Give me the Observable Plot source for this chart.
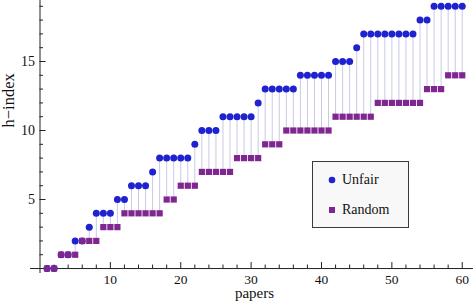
<!DOCTYPE html>
<html>
<head>
<meta charset="utf-8">
<script src="https://cdn.jsdelivr.net/npm/d3@7"></script>
<script src="https://cdn.jsdelivr.net/npm/@observablehq/plot@0.6"></script>
<style>
  html, body { margin: 0; padding: 0; background: #fff; }
  #wrap { position: relative; width: 473px; height: 302px; font-family: "Liberation Serif", "DejaVu Serif", serif; }
  #legend { position: absolute; left: 312px; top: 161px; width: 97px; height: 67px;
    border: 1px solid #3a3a3a; background: #f8f8f8; box-sizing: border-box; font-size: 14px; color: #111; }
  .item { position: absolute; left: 15px; display: flex; align-items: center; }
  .item svg { margin-right: 6px; }
</style>
</head>
<body>
<div id="wrap"></div>
<script>
const papers = [1,2,3,4,5,6,7,8,9,10,11,12,13,14,15,16,17,18,19,20,21,22,23,24,25,26,27,28,29,30,
  31,32,33,34,35,36,37,38,39,40,41,42,43,44,45,46,47,48,49,50,51,52,53,54,55,56,57,58,59,60];
const unfair = [0,0,1,1,2,2,3,4,4,4,5,5,6,6,6,7,8,8,8,8,8,9,10,10,10,11,11,11,11,11,
  12,13,13,13,13,13,14,14,14,14,14,15,15,15,16,17,17,17,17,17,17,17,17,18,18,19,19,19,19,19];
const random = [0,0,1,1,1,2,2,2,3,3,3,4,4,4,4,4,4,5,5,6,6,6,7,7,7,7,7,8,8,8,
  8,9,9,9,10,10,10,10,10,10,10,11,11,11,11,11,11,12,12,12,12,12,12,12,13,13,13,14,14,14];
const xMajor = [10,20,30,40,50,60];
const xMinor = [2,4,6,8,12,14,16,18,22,24,26,28,32,34,36,38,42,44,46,48,52,54,56,58];
const yMajor = [5,10,15];
const yMinor = [1,2,3,4,6,7,8,9,11,12,13,14,16,17,18,19];
const seriesNames = ["Unfair", "Random"];
const xLabel = "papers";
const yLabel = "h−index";

const blue = "#1f22cf";
const purple = "#7f2690";
const stem = "#c9c9e6";

const data = papers.map((p, i) => ({paper: p, unfair: unfair[i], random: random[i]}));

const chart = Plot.plot({
  width: 473,
  height: 302,
  marginLeft: 30,
  marginRight: 0,
  marginTop: 0,
  marginBottom: 29,
  style: {fontFamily: "'Liberation Serif', 'DejaVu Serif', serif", background: "#fff", color: "#111"},
  x: {domain: [-1.35, 61.6], axis: null},
  y: {domain: [-0.36, 19.42], axis: null},
  marks: [
    Plot.ruleX(data, {x: "paper", y1: "random", y2: "unfair", stroke: stem, strokeWidth: 1}),
    Plot.ruleY([0], {stroke: "#222", strokeWidth: 1}),
    Plot.ruleX([0], {stroke: "#222", strokeWidth: 1}),
    Plot.ruleX(xMajor, {x: d => d, y1: () => 0, y2: () => 0, insetTop: -6, stroke: "#222"}),
    Plot.ruleX(xMinor, {x: d => d, y1: () => 0, y2: () => 0, insetTop: -3.5, stroke: "#222"}),
    Plot.ruleY(yMajor, {y: d => d, x1: () => 0, x2: () => 0, insetRight: -6, stroke: "#222"}),
    Plot.ruleY(yMinor, {y: d => d, x1: () => 0, x2: () => 0, insetRight: -3.5, stroke: "#222"}),
    Plot.text(xMajor, {x: d => d, y: () => 0, text: d => String(d), dy: 11.5, fontSize: 13.5, fill: "#111"}),
    Plot.text(yMajor, {x: () => 0, y: d => d, text: d => String(d), dx: -5, textAnchor: "end", fontSize: 14, fill: "#111"}),
    Plot.text([xLabel], {frameAnchor: "bottom", lineAnchor: "middle", text: d => d, dx: 2.5, dy: 20, fontSize: 15, fill: "#111"}),
    Plot.text([yLabel], {frameAnchor: "left", lineAnchor: "middle", text: d => d, rotate: -90, dx: -22, dy: -9.5, fontSize: 16.5, fill: "#111"}),
    Plot.dot(data, {x: "paper", y: "unfair", r: 3.5, fill: blue, stroke: "none"}),
    Plot.dot(data, {x: "paper", y: "random", r: 3.5, symbol: "square", fill: purple, stroke: "none"})
  ]
});

const wrap = document.getElementById("wrap");
wrap.appendChild(chart);

const legend = document.createElement("div");
legend.id = "legend";
const colors = [blue, purple];
const tops = [10, 40];
seriesNames.forEach((name, i) => {
  const item = document.createElement("div");
  item.className = "item";
  item.style.top = tops[i] + "px";
  const sym = i === 0
    ? `<svg width="8" height="8"><circle cx="4" cy="4" r="3.3" fill="${colors[i]}"/></svg>`
    : `<svg width="8" height="8"><rect x="1" y="1" width="6" height="6" fill="${colors[i]}"/></svg>`;
  item.innerHTML = sym + `<span>${name}</span>`;
  legend.appendChild(item);
});
wrap.appendChild(legend);
</script>
</body>
</html>
